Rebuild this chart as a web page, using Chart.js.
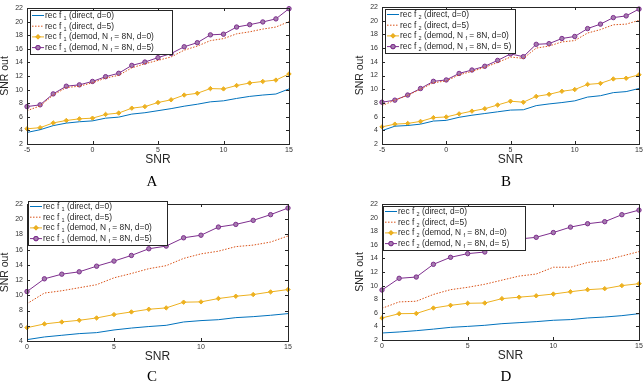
<!DOCTYPE html>
<html>
<head>
<meta charset="utf-8">
<script src="https://cdn.jsdelivr.net/npm/chart.js@4.4.1/dist/chart.umd.min.js"></script>
<style>
  html, body { margin: 0; padding: 0; background: #fff; }
  #wrap { position: relative; width: 644px; height: 389px; overflow: hidden; }
  canvas { position: absolute; }
</style>
</head>
<body>
<div id="wrap">
  <canvas id="cA" width="322" height="195" style="left:0;top:0"></canvas>
  <canvas id="cB" width="322" height="195" style="left:322px;top:0"></canvas>
  <canvas id="cC" width="322" height="194" style="left:0;top:195px"></canvas>
  <canvas id="cD" width="322" height="194" style="left:322px;top:195px"></canvas>
</div>
<script>
// x values (input SNR)
const snrAB = [-5,-4,-3,-2,-1,0,1,2,3,4,5,6,7,8,9,10,11,12,13,14,15];
const snrCD = [0,1,2,3,4,5,6,7,8,9,10,11,12,13,14,15];

// tick labels
const xTicksAB = [-5, 0, 5, 10, 15];
const xTicksCD = [0, 5, 10, 15];
const yTicks2 = [2,4,6,8,10,12,14,16,18,20,22];
const yTicks4 = [4,6,8,10,12,14,16,18,20,22];

// panel A : rec f1, SNR -5..15
const aDirect0 = [3.7,4.1,4.7,5.07,5.27,5.4,5.8,5.95,6.4,6.6,6.9,7.2,7.56,7.85,8.2,8.35,8.7,9.0,9.2,9.35,10.1];
const aDirect5 = [6.9,7.6,9.2,10.3,10.5,11.0,11.7,12.1,13.2,13.8,14.3,14.8,15.8,16.4,17.2,17.5,18.2,18.5,18.9,19.2,20.0];
const aDemod0  = [4.24,4.4,5.1,5.46,5.7,5.8,6.35,6.55,7.27,7.5,8.1,8.5,9.2,9.46,10.15,10.1,10.6,10.97,11.2,11.4,12.3];
const aDemod5  = [7.5,7.76,9.37,10.5,10.7,11.2,11.9,12.4,13.56,14.05,14.7,15.3,16.3,16.9,18.05,18.15,19.2,19.55,19.95,20.4,21.9];

// panel B : rec f2, SNR -5..15
const bDirect0 = [3.95,4.6,4.7,4.9,5.35,5.45,5.9,6.2,6.45,6.7,6.95,7.0,7.6,7.85,8.05,8.3,8.85,9.05,9.5,9.65,10.1];
const bDirect5 = [7.6,8.4,9.1,10.0,10.95,11.2,12.1,12.6,13.2,13.9,14.7,14.5,16.0,16.3,16.9,17.1,18.2,18.7,19.4,19.5,20.05];
const bDemod0  = [4.5,4.9,5.0,5.3,5.85,5.95,6.4,6.8,7.15,7.7,8.25,8.1,8.95,9.25,9.7,9.95,10.7,10.85,11.5,11.6,12.1];
const bDemod5  = [8.1,8.4,9.15,10.1,11.15,11.35,12.3,12.8,13.35,14.2,15.15,14.75,16.55,16.65,17.4,17.7,18.85,19.5,20.45,20.7,21.7];

// panel C : rec f1, SNR 0..15
const cDirect0 = [4.18,4.53,4.75,4.97,5.1,5.45,5.7,5.9,6.06,6.5,6.68,6.8,7.07,7.2,7.38,7.6];
const cDirect5 = [8.9,10.3,10.6,11.0,11.4,12.3,12.87,13.5,13.9,14.85,15.45,15.8,16.4,16.6,17.0,17.8];
const cDemod0  = [5.75,6.24,6.5,6.72,7.03,7.47,7.82,8.17,8.35,9.1,9.14,9.58,9.88,10.1,10.45,10.76];
const cDemod5  = [10.5,12.17,12.78,13.09,13.83,14.5,15.24,16.12,16.47,17.56,17.9,18.97,19.32,19.85,20.6,21.47];

// panel D : rec f2, SNR 0..15
const dDirect0 = [3.03,3.18,3.37,3.6,3.86,4.0,4.16,4.4,4.55,4.7,4.9,5.0,5.24,5.38,5.58,5.87];
const dDirect5 = [6.66,7.6,7.7,8.7,9.4,9.75,10.2,10.8,11.4,11.7,12.7,12.7,13.4,13.7,14.35,15.0];
const dDemod0  = [5.24,5.87,5.9,6.7,7.1,7.4,7.44,8.08,8.3,8.5,8.76,9.1,9.4,9.55,10.0,10.28];
const dDemod5  = [9.35,11.07,11.26,13.13,14.16,14.7,14.94,16.46,16.85,17.1,17.8,18.6,19.1,19.4,20.43,21.1];

// legend labels: [text, subscript, text, subscript, text ...]
const labelsF1 = [
  ['rec f ', '1', ' (direct, d=0)'],
  ['rec f ', '1', ' (direct, d=5)'],
  ['rec f ', '1', ' (demod, N ', 'f', ' = 8N, d=0)'],
  ['rec f ', '1', ' (demod, N ', 'f', ' = 8N, d=5)']
];
const labelsF2 = [
  ['rec f ', '2', ' (direct, d=0)'],
  ['rec f ', '2', ' (direct, d=5)'],
  ['rec f ', '2', ' (demod, N ', 'f', ' = 8N, d=0)'],
  ['rec f ', '2', ' (demod, N ', 'f', ' = 8N, d= 5)']
];

const FONT = '"Liberation Sans", Arial, sans-serif';
const INK = '#262626';
const colors = ['#0072BD', '#D95319', '#EDB120', '#7E2F8E'];

function pts(xs, ys) { return xs.map((x, i) => ({ x: x, y: ys[i] })); }

// box around plot with inward ticks, legend box and panel letter
const framePlugin = {
  id: 'frame',
  afterDatasetsDraw(chart, args, opts) {
    const ctx = chart.ctx, a = chart.chartArea;
    const xs = chart.scales.x, ys = chart.scales.y;
    ctx.save();
    ctx.strokeStyle = INK;
    ctx.lineWidth = 1;
    ctx.beginPath();
    xs.ticks.forEach(t => {
      const px = Math.round(xs.getPixelForValue(t.value)) + 0.5;
      ctx.moveTo(px, a.bottom); ctx.lineTo(px, a.bottom - 3);
      ctx.moveTo(px, a.top); ctx.lineTo(px, a.top + 3);
    });
    ys.ticks.forEach(t => {
      const py = Math.round(ys.getPixelForValue(t.value)) + 0.5;
      ctx.moveTo(a.left, py); ctx.lineTo(a.left + 3, py);
      ctx.moveTo(a.right, py); ctx.lineTo(a.right - 3, py);
    });
    ctx.stroke();
    ctx.strokeRect(Math.round(a.left) + 0.5, Math.round(a.top) + 0.5,
                   Math.round(a.right - a.left), Math.round(a.bottom - a.top));

    // legend
    const L = opts.box;
    ctx.fillStyle = '#fff';
    ctx.fillRect(L.x, L.y, L.w, L.h);
    ctx.strokeStyle = INK;
    ctx.strokeRect(L.x + 0.5, L.y + 0.5, L.w, L.h);
    chart.data.datasets.forEach((ds, i) => {
      const cy = L.y + 5.5 + i * 10.7;
      ctx.save();
      ctx.strokeStyle = ds.borderColor;
      ctx.lineWidth = 1;
      ctx.setLineDash(ds.borderDash || []);
      ctx.beginPath();
      ctx.moveTo(L.x + 2, cy); ctx.lineTo(L.x + 14, cy);
      ctx.stroke();
      ctx.setLineDash([]);
      if (ds.pointRadius > 0) {
        Chart.helpers.drawPoint(ctx, {
          pointStyle: ds.pointStyle, radius: ds.pointRadius,
          borderWidth: 1
        }, L.x + 8, cy);
        ctx.fillStyle = ds.pointBackgroundColor;
        ctx.strokeStyle = ds.borderColor;
        ctx.fill(); ctx.stroke();
      }
      ctx.restore();
      let tx = L.x + 15;
      ctx.fillStyle = INK;
      ctx.textBaseline = 'middle';
      ds.label.split('|').forEach((part, k) => {
        if (k % 2 === 1) {
          ctx.font = '5.5px ' + FONT;
          ctx.fillText(part, tx, cy + 2.8);
        } else {
          ctx.font = '8.4px ' + FONT;
          ctx.fillText(part, tx, cy);
        }
        tx += ctx.measureText(part).width;
      });
    });

    // panel letter
    ctx.fillStyle = '#000';
    ctx.font = '15px "Liberation Serif", "Times New Roman", serif';
    ctx.textAlign = 'center';
    ctx.textBaseline = 'middle';
    ctx.fillText(opts.letter, opts.lx, opts.ly);
    ctx.restore();
  }
};

function makeChart(id, xs, series, labels, xTicks, yTicks, pad, box, letter, lx, ly) {
  const datasets = series.map((ys, i) => ({
    label: labels[i].join('|'),
    data: pts(xs, ys),
    borderColor: colors[i],
    backgroundColor: colors[i],
    borderWidth: 1,
    borderDash: i === 1 ? [1.5, 1.5] : [],
    pointRadius: i >= 2 ? 2.2 : 0,
    pointStyle: i === 2 ? 'rectRot' : 'circle',
    pointBackgroundColor: i === 2 ? '#EDB120' : '#a57cae',
    pointBorderColor: colors[i],
    pointBorderWidth: 1,
    tension: 0,
    clip: false
  }));
  return new Chart(document.getElementById(id), {
    type: 'line',
    data: { datasets: datasets },
    plugins: [framePlugin],
    options: {
      responsive: false,
      animation: false,
      layout: { padding: pad },
      plugins: {
        legend: { display: false },
        tooltip: { enabled: false },
        frame: { box: box, letter: letter, lx: lx, ly: ly }
      },
      scales: {
        x: {
          type: 'linear',
          min: xTicks[0], max: xTicks[xTicks.length - 1],
          afterBuildTicks: s => { s.ticks = xTicks.map(v => ({ value: v })); },
          afterFit: s => { s.height = 21.5; s.paddingLeft = 0; s.paddingRight = 0; },
          grid: { display: false, drawTicks: false },
          border: { display: false },
          ticks: { color: '#333', font: { family: FONT, size: 7 }, padding: 2, maxRotation: 0 },
          title: { display: true, text: 'SNR', color: INK,
                   font: { family: FONT, size: 12, lineHeight: 1 }, padding: { top: 0, bottom: 0 } }
        },
        y: {
          min: yTicks[0], max: yTicks[yTicks.length - 1],
          afterBuildTicks: s => { s.ticks = yTicks.map(v => ({ value: v })); },
          afterFit: s => { s.width = 27; s.paddingTop = 0; s.paddingBottom = 0; },
          grid: { display: false, drawTicks: false },
          border: { display: false },
          ticks: { color: '#333', font: { family: FONT, size: 7 }, padding: 4 },
          title: { display: true, text: 'SNR out', color: INK,
                   font: { family: FONT, size: 10.5, lineHeight: 1 }, padding: { top: 0, bottom: 0 } }
        }
      }
    }
  });
}

makeChart('cA', snrAB, [aDirect0, aDirect5, aDemod0, aDemod5], labelsF1, xTicksAB, yTicks2,
  { left: 0, top: 8, right: 33, bottom: 29.5 }, { x: 30, y: 10, w: 142, h: 44 }, 'A', 152, 182);
makeChart('cB', snrAB, [bDirect0, bDirect5, bDemod0, bDemod5], labelsF2, xTicksAB, yTicks2,
  { left: 33, top: 7, right: 2, bottom: 29.5 }, { x: 63, y: 9, w: 130, h: 44 }, 'B', 184, 182);
makeChart('cC', snrCD, [cDirect0, cDirect5, cDemod0, cDemod5], labelsF1, xTicksCD, yTicks4,
  { left: 0, top: 9, right: 34, bottom: 26.5 }, { x: 28, y: 6, w: 139, h: 44 }, 'C', 152, 182);
makeChart('cD', snrCD, [dDirect0, dDirect5, dDemod0, dDemod5], labelsF2, xTicksCD, yTicks2,
  { left: 33, top: 9, right: 1, bottom: 27.5 }, { x: 61, y: 11, w: 142, h: 44 }, 'D', 184, 182);
</script>
</body>
</html>
